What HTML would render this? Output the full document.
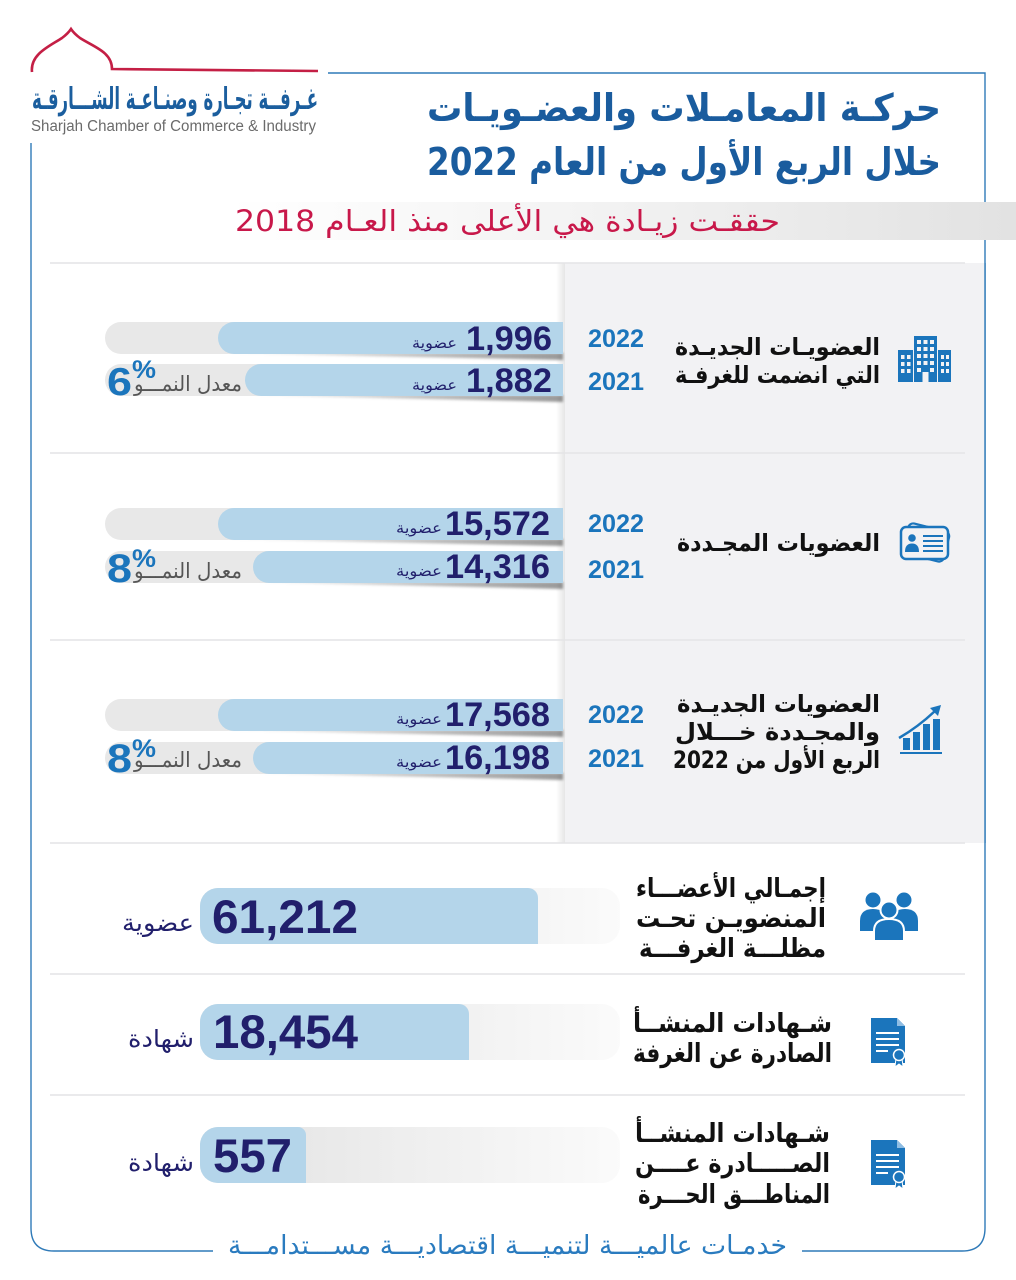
<!DOCTYPE html>
<html><head><meta charset="utf-8"><style>
html,body{margin:0;padding:0;background:#fff;}
svg{display:block;}
</style></head><body>
<svg width="1016" height="1280" viewBox="0 0 1016 1280" xmlns="http://www.w3.org/2000/svg">
<defs>
  <linearGradient id="band" gradientUnits="userSpaceOnUse" x1="230" y1="0" x2="1016" y2="0">
    <stop offset="0" stop-color="#ffffff"/>
    <stop offset="0.45" stop-color="#f3f3f3"/>
    <stop offset="1" stop-color="#e2e2e2"/>
  </linearGradient>
  <linearGradient id="pshadow" x1="0" x2="1">
    <stop offset="0" stop-color="#000" stop-opacity="0"/>
    <stop offset="1" stop-color="#000" stop-opacity="0.10"/>
  </linearGradient>
  <linearGradient id="bshadow" gradientUnits="userSpaceOnUse" x1="225" y1="0" x2="563" y2="0">
    <stop offset="0" stop-color="#000" stop-opacity="0.05"/>
    <stop offset="1" stop-color="#000" stop-opacity="0.4"/>
  </linearGradient>
  <linearGradient id="track" gradientUnits="userSpaceOnUse" x1="200" y1="0" x2="625" y2="0">
    <stop offset="0" stop-color="#e2e2e2"/>
    <stop offset="1" stop-color="#fbfbfb"/>
  </linearGradient>
  <filter id="blur" x="-10%" y="-100%" width="120%" height="300%"><feGaussianBlur stdDeviation="1.3"/></filter>
</defs>

<!-- Logo -->
<path d="M32,72 C30,54 50,46 62,38 C66,35 69,32 71,29 C73,32 76,35 80,38 C94,47 112,52 112,69 L318,71" fill="none" stroke="#c41f45" stroke-width="2.6"/>
<text x="32" y="109" font-family="DejaVu Sans, sans-serif" font-weight="bold" font-size="30" fill="#1b5e9e" textLength="286" lengthAdjust="spacingAndGlyphs">غـرفــة تجـارة وصنـاعـة الشـــارقـة</text>
<text x="31" y="131" font-family="Liberation Sans, sans-serif" font-size="15.5" fill="#6b6b6b" textLength="285" lengthAdjust="spacingAndGlyphs">Sharjah Chamber of Commerce &amp; Industry</text>

<!-- Frame -->
<path d="M31,143 V1228 Q31,1251 54,1251 H213" fill="none" stroke="#2f7ab8" stroke-width="1.4"/>
<path d="M328,73 H985 V1228 Q985,1251 962,1251 H802" fill="none" stroke="#2f7ab8" stroke-width="1.4"/>

<!-- Title -->
<text x="427" y="121" font-family="DejaVu Sans, sans-serif" font-weight="bold" font-size="38" fill="#1a5c9e" textLength="514" lengthAdjust="spacingAndGlyphs">حركـة المعامـلات والعضـويـات</text>
<text x="427" y="175" font-family="DejaVu Sans, sans-serif" font-weight="bold" font-size="38" fill="#1a5c9e" textLength="514" lengthAdjust="spacingAndGlyphs">خلال الربع الأول من العام 2022</text>

<!-- Subtitle band -->
<rect x="230" y="202" width="786" height="38" fill="url(#band)"/>
<text x="235" y="231" font-family="DejaVu Sans, sans-serif" font-size="29" fill="#c8184a" textLength="545" lengthAdjust="spacingAndGlyphs">حققـت زيـادة هي الأعلى منذ العـام 2018</text>

<!-- Panel -->
<rect x="565" y="263" width="420" height="580" fill="#f2f2f4"/>
<rect x="556" y="263" width="9" height="580" fill="url(#pshadow)"/>
<line x1="985" y1="263" x2="985" y2="843" stroke="#2f7ab8" stroke-width="1.4"/>

<!-- Divider lines -->
<g stroke="#e4e4e6" stroke-width="1.5">
  <line x1="50" y1="263" x2="965" y2="263"/>
  <line x1="50" y1="453" x2="965" y2="453"/>
  <line x1="50" y1="640" x2="965" y2="640"/>
  <line x1="50" y1="843" x2="965" y2="843"/>
  <line x1="50" y1="974" x2="965" y2="974"/>
  <line x1="50" y1="1095" x2="965" y2="1095"/>
</g>

<!-- Row 1 bars -->
<g>
  <path d="M121,322 H563 V354 H121 A16,16 0 0 1 121,322 Z" fill="#e8e8e8"/>
  <polygon points="225,353 563,353 563,360" fill="url(#bshadow)" filter="url(#blur)"/>
  <path d="M234,322 H563 V354 H234 A16,16 0 0 1 234,322 Z" fill="#b4d5ea"/>
  <path d="M121,364 H563 V396 H121 A16,16 0 0 1 121,364 Z" fill="#e8e8e8"/>
  <polygon points="250,395 563,395 563,402" fill="url(#bshadow)" filter="url(#blur)"/>
  <path d="M261,364 H563 V396 H261 A16,16 0 0 1 261,364 Z" fill="#b4d5ea"/>
</g>
<!-- Row 2 bars -->
<g>
  <path d="M121,508 H563 V540 H121 A16,16 0 0 1 121,508 Z" fill="#e8e8e8"/>
  <polygon points="225,539 563,539 563,546" fill="url(#bshadow)" filter="url(#blur)"/>
  <path d="M234,508 H563 V540 H234 A16,16 0 0 1 234,508 Z" fill="#b4d5ea"/>
  <path d="M121,551 H563 V583 H121 A16,16 0 0 1 121,551 Z" fill="#e8e8e8"/>
  <polygon points="255,582 563,582 563,589" fill="url(#bshadow)" filter="url(#blur)"/>
  <path d="M269,551 H563 V583 H269 A16,16 0 0 1 269,551 Z" fill="#b4d5ea"/>
</g>
<!-- Row 3 bars -->
<g>
  <path d="M121,699 H563 V731 H121 A16,16 0 0 1 121,699 Z" fill="#e8e8e8"/>
  <polygon points="225,730 563,730 563,737" fill="url(#bshadow)" filter="url(#blur)"/>
  <path d="M234,699 H563 V731 H234 A16,16 0 0 1 234,699 Z" fill="#b4d5ea"/>
  <path d="M121,742 H563 V774 H121 A16,16 0 0 1 121,742 Z" fill="#e8e8e8"/>
  <polygon points="255,773 563,773 563,780" fill="url(#bshadow)" filter="url(#blur)"/>
  <path d="M269,742 H563 V774 H269 A16,16 0 0 1 269,742 Z" fill="#b4d5ea"/>
</g>

<!-- Values rows 1-3 -->
<g font-family="Liberation Sans, sans-serif" font-weight="bold" font-size="34" fill="#211f6c">
  <text x="466" y="350" textLength="86" lengthAdjust="spacingAndGlyphs">1,996</text>
  <text x="466" y="392" textLength="86" lengthAdjust="spacingAndGlyphs">1,882</text>
  <text x="445" y="535" textLength="105" lengthAdjust="spacingAndGlyphs">15,572</text>
  <text x="445" y="578" textLength="105" lengthAdjust="spacingAndGlyphs">14,316</text>
  <text x="445" y="726" textLength="105" lengthAdjust="spacingAndGlyphs">17,568</text>
  <text x="445" y="769" textLength="105" lengthAdjust="spacingAndGlyphs">16,198</text>
</g>
<g font-family="DejaVu Sans, sans-serif" font-size="15" fill="#211f6c">
  <text x="412" y="348" textLength="45" lengthAdjust="spacingAndGlyphs">عضوية</text>
  <text x="412" y="390" textLength="45" lengthAdjust="spacingAndGlyphs">عضوية</text>
  <text x="396" y="533" textLength="46" lengthAdjust="spacingAndGlyphs">عضوية</text>
  <text x="396" y="576" textLength="46" lengthAdjust="spacingAndGlyphs">عضوية</text>
  <text x="396" y="724" textLength="46" lengthAdjust="spacingAndGlyphs">عضوية</text>
  <text x="396" y="767" textLength="46" lengthAdjust="spacingAndGlyphs">عضوية</text>
</g>

<!-- Growth -->
<g font-family="DejaVu Sans, sans-serif" font-size="21" fill="#555555">
  <text x="134" y="391" textLength="108" lengthAdjust="spacingAndGlyphs">معدل النمـــو</text>
  <text x="134" y="578" textLength="108" lengthAdjust="spacingAndGlyphs">معدل النمـــو</text>
  <text x="134" y="767" textLength="108" lengthAdjust="spacingAndGlyphs">معدل النمـــو</text>
</g>
<g font-family="Liberation Sans, sans-serif" font-weight="bold" fill="#1b75bc">
  <text x="107" y="395" font-size="39" textLength="25" lengthAdjust="spacingAndGlyphs">6</text>
  <text x="132" y="378" font-size="25" textLength="24" lengthAdjust="spacingAndGlyphs">%</text>
  <text x="107" y="582" font-size="40" textLength="25" lengthAdjust="spacingAndGlyphs">8</text>
  <text x="132" y="567" font-size="25" textLength="24" lengthAdjust="spacingAndGlyphs">%</text>
  <text x="107" y="772" font-size="40" textLength="25" lengthAdjust="spacingAndGlyphs">8</text>
  <text x="132" y="757" font-size="25" textLength="24" lengthAdjust="spacingAndGlyphs">%</text>
</g>

<!-- Years -->
<g font-family="Liberation Sans, sans-serif" font-weight="bold" font-size="25" fill="#1b75bc">
  <text x="588" y="347" textLength="56" lengthAdjust="spacingAndGlyphs">2022</text>
  <text x="588" y="390" textLength="56" lengthAdjust="spacingAndGlyphs">2021</text>
  <text x="588" y="532" textLength="56" lengthAdjust="spacingAndGlyphs">2022</text>
  <text x="588" y="578" textLength="56" lengthAdjust="spacingAndGlyphs">2021</text>
  <text x="588" y="723" textLength="56" lengthAdjust="spacingAndGlyphs">2022</text>
  <text x="588" y="767" textLength="56" lengthAdjust="spacingAndGlyphs">2021</text>
</g>

<!-- Panel labels -->
<g font-family="DejaVu Sans, sans-serif" font-weight="bold" font-size="24" fill="#111111">
  <text x="675" y="355" textLength="205" lengthAdjust="spacingAndGlyphs">العضويـات الجديـدة</text>
  <text x="675" y="383" textLength="205" lengthAdjust="spacingAndGlyphs">التي انضمت للغرفـة</text>
  <text x="677" y="551" textLength="203" lengthAdjust="spacingAndGlyphs">العضويات المجـددة</text>
  <text x="677" y="712" textLength="203" lengthAdjust="spacingAndGlyphs">العضويات الجديـدة</text>
  <text x="675" y="740" textLength="205" lengthAdjust="spacingAndGlyphs">والمجـددة خـــلال</text>
  <text x="673" y="768" textLength="207" lengthAdjust="spacingAndGlyphs">الربع الأول من 2022</text>
</g>

<!-- Building icon -->
<g fill="#1b75bc">
  <rect x="914" y="336" width="23" height="46"/>
  <rect x="898" y="350" width="15" height="32"/>
  <rect x="938" y="350" width="13" height="32"/>
</g>
<g fill="#f2f2f4">
  <rect x="917" y="340" width="4" height="4"/><rect x="923.5" y="340" width="4" height="4"/><rect x="930" y="340" width="4" height="4"/>
  <rect x="917" y="347" width="4" height="4"/><rect x="923.5" y="347" width="4" height="4"/><rect x="930" y="347" width="4" height="4"/>
  <rect x="917" y="354" width="4" height="4"/><rect x="923.5" y="354" width="4" height="4"/><rect x="930" y="354" width="4" height="4"/>
  <rect x="917" y="361" width="4" height="4"/><rect x="923.5" y="361" width="4" height="4"/><rect x="930" y="361" width="4" height="4"/>
  <rect x="917" y="368" width="4" height="4"/><rect x="930" y="368" width="4" height="4"/>
  <rect x="922.5" y="372" width="6" height="10"/>
  <rect x="901" y="355" width="3.5" height="4"/><rect x="907" y="355" width="3.5" height="4"/>
  <rect x="901" y="362" width="3.5" height="4"/><rect x="907" y="362" width="3.5" height="4"/>
  <rect x="901" y="369" width="3.5" height="4"/><rect x="907" y="369" width="3.5" height="4"/>
  <rect x="941" y="355" width="3" height="4"/><rect x="946" y="355" width="3" height="4"/>
  <rect x="941" y="362" width="3" height="4"/><rect x="946" y="362" width="3" height="4"/>
  <rect x="941" y="369" width="3" height="4"/><rect x="946" y="369" width="3" height="4"/>
</g>

<!-- ID card icon -->
<g fill="#f2f2f4" stroke="#1b75bc" stroke-width="2.2">
  <rect x="905" y="527" width="42" height="31" rx="5" transform="rotate(14 926 543)"/>
  <rect x="901" y="527" width="47" height="32" rx="5" stroke-width="2.5"/>
</g>
<g fill="#1b75bc">
  <circle cx="912" cy="538" r="3.8"/>
  <path d="M905,552 Q905,543.5 912,543.5 Q919,543.5 919,552 Z"/>
</g>
<g stroke="#1b75bc" stroke-width="2">
  <line x1="923" y1="536" x2="943" y2="536"/>
  <line x1="923" y1="541" x2="943" y2="541"/>
  <line x1="923" y1="546" x2="943" y2="546"/>
  <line x1="923" y1="551" x2="943" y2="551"/>
</g>

<!-- Chart icon -->
<g fill="#1b75bc">
  <rect x="903" y="738" width="7" height="12"/>
  <rect x="913" y="732" width="7" height="18"/>
  <rect x="923" y="724" width="7" height="26"/>
  <rect x="933" y="719" width="7" height="31"/>
  <rect x="900" y="752" width="42" height="2"/>
  <polygon points="941,705 930,708 938,716"/>
</g>
<path d="M899,738 Q918,727 935,711" fill="none" stroke="#1b75bc" stroke-width="2.5"/>

<!-- Bottom bars -->
<rect x="200" y="888" width="420" height="56" rx="18" fill="url(#track)"/>
<path d="M218,888 H528 A10,10 0 0 1 538,898 V944 H218 A18,18 0 0 1 200,926 V906 A18,18 0 0 1 218,888 Z" fill="#b4d5ea"/>
<rect x="200" y="1004" width="420" height="56" rx="18" fill="url(#track)"/>
<path d="M218,1004 H459 A10,10 0 0 1 469,1014 V1060 H218 A18,18 0 0 1 200,1042 V1022 A18,18 0 0 1 218,1004 Z" fill="#b4d5ea"/>
<rect x="200" y="1127" width="420" height="56" rx="18" fill="url(#track)"/>
<path d="M218,1127 H298 A8,8 0 0 1 306,1135 V1183 H218 A18,18 0 0 1 200,1165 V1145 A18,18 0 0 1 218,1127 Z" fill="#b4d5ea"/>

<g font-family="Liberation Sans, sans-serif" font-weight="bold" font-size="47" fill="#211f6c">
  <text x="212" y="933" textLength="146" lengthAdjust="spacingAndGlyphs">61,212</text>
  <text x="213" y="1048" textLength="145" lengthAdjust="spacingAndGlyphs">18,454</text>
  <text x="213" y="1172" textLength="79" lengthAdjust="spacingAndGlyphs">557</text>
</g>
<g font-family="DejaVu Sans, sans-serif" font-size="24" fill="#211f6c">
  <text x="122" y="931" textLength="72" lengthAdjust="spacingAndGlyphs">عضوية</text>
  <text x="128" y="1047" textLength="66" lengthAdjust="spacingAndGlyphs">شهادة</text>
  <text x="128" y="1171" textLength="66" lengthAdjust="spacingAndGlyphs">شهادة</text>
</g>

<!-- Bottom labels -->
<g font-family="DejaVu Sans, sans-serif" font-weight="bold" font-size="26" fill="#111111">
  <text x="636" y="897" textLength="190" lengthAdjust="spacingAndGlyphs">إجمـالي الأعضـــاء</text>
  <text x="636" y="927" textLength="190" lengthAdjust="spacingAndGlyphs">المنضويـن تحـت</text>
  <text x="639" y="957" textLength="187" lengthAdjust="spacingAndGlyphs">مظلـــة الغرفـــة</text>
  <text x="633" y="1032" textLength="199" lengthAdjust="spacingAndGlyphs">شـهادات المنشــأ</text>
  <text x="633" y="1062" textLength="199" lengthAdjust="spacingAndGlyphs">الصادرة عن الغرفة</text>
  <text x="635" y="1142" textLength="195" lengthAdjust="spacingAndGlyphs">شـهادات المنشــأ</text>
  <text x="635" y="1172" textLength="195" lengthAdjust="spacingAndGlyphs">الصـــــادرة عــــن</text>
  <text x="638" y="1203" textLength="192" lengthAdjust="spacingAndGlyphs">المناطـــق الحـــرة</text>
</g>

<!-- People icon -->
<g fill="#1b75bc">
  <circle cx="873" cy="900" r="7.5"/>
  <circle cx="904" cy="900" r="7.5"/>
  <path d="M860,931 V921 Q860,909 873,909 Q886,909 886,921 V931 Z"/>
  <path d="M892,931 V921 Q892,909 905,909 Q918,909 918,921 V931 Z"/>
</g>
<g fill="#1b75bc" stroke="#ffffff" stroke-width="2">
  <circle cx="889" cy="910" r="8.5"/>
  <path d="M874,941 V931 Q874,919 889,919 Q904,919 904,931 V941 Z"/>
</g>

<!-- Document icons -->
<g>
  <path d="M871,1018 H897 L905,1026 V1063 H871 Z" fill="#1b75bc"/>
  <path d="M897,1018 V1026 H905 Z" fill="#8fbde3"/>
  <g stroke="#ffffff" stroke-width="2">
    <line x1="876" y1="1033" x2="899" y2="1033"/>
    <line x1="876" y1="1039" x2="899" y2="1039"/>
    <line x1="876" y1="1045" x2="899" y2="1045"/>
    <line x1="876" y1="1051" x2="888" y2="1051"/>
  </g>
  <path d="M896,1058 L895,1067 L899,1064 L903,1067 L902,1058 Z" fill="#1b75bc" stroke="#fff" stroke-width="1"/>
  <circle cx="899" cy="1055" r="5.5" fill="#1b75bc" stroke="#ffffff" stroke-width="1.5"/>
</g>
<g transform="translate(0,122)">
  <path d="M871,1018 H897 L905,1026 V1063 H871 Z" fill="#1b75bc"/>
  <path d="M897,1018 V1026 H905 Z" fill="#8fbde3"/>
  <g stroke="#ffffff" stroke-width="2">
    <line x1="876" y1="1033" x2="899" y2="1033"/>
    <line x1="876" y1="1039" x2="899" y2="1039"/>
    <line x1="876" y1="1045" x2="899" y2="1045"/>
    <line x1="876" y1="1051" x2="888" y2="1051"/>
  </g>
  <path d="M896,1058 L895,1067 L899,1064 L903,1067 L902,1058 Z" fill="#1b75bc" stroke="#fff" stroke-width="1"/>
  <circle cx="899" cy="1055" r="5.5" fill="#1b75bc" stroke="#ffffff" stroke-width="1.5"/>
</g>

<!-- Footer -->
<text x="228" y="1254" font-family="DejaVu Sans, sans-serif" font-size="26" fill="#2a7bbf" textLength="559" lengthAdjust="spacingAndGlyphs">خدمـات عالميـــة لتنميـــة اقتصاديـــة مســـتدامـــة</text>
</svg>
</body></html>
